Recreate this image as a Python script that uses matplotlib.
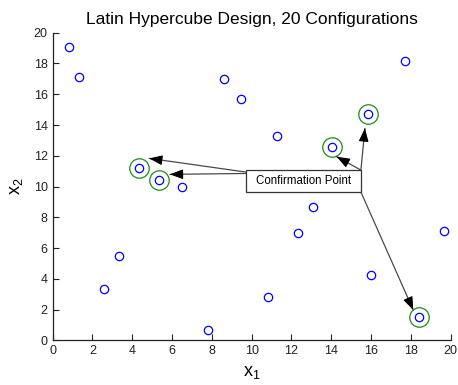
import matplotlib
matplotlib.use("Agg")
import matplotlib.pyplot as plt

plt.rcParams["font.family"] = ["Liberation Sans", "DejaVu Sans"]
plt.rcParams["mathtext.fontset"] = "custom"
plt.rcParams["mathtext.rm"] = "Liberation Sans"
plt.rcParams["mathtext.it"] = "Liberation Sans"

# 20-point latin hypercube sample
x1 = [0.82, 1.32, 2.56, 3.33, 4.34, 5.36, 6.51, 7.82, 8.62, 9.44,
      10.83, 11.26, 12.31, 13.10, 14.02, 15.86, 16.00, 17.70, 18.39, 19.68]
x2 = [19.09, 17.14, 3.32, 5.50, 11.18, 10.42, 9.99, 0.69, 17.02, 15.72,
      2.83, 13.28, 6.96, 8.69, 12.57, 14.69, 4.27, 18.17, 1.53, 7.09]

# indices of the confirmation points
confirm = [4, 5, 14, 15, 18]

# label box and arrow geometry (data units)
box_x = [9.74, 15.48]
box_y = [9.63, 11.07]
arrow_from = [(9.71, 10.94), (9.71, 10.85), (15.49, 11.07), (15.49, 11.07), (15.49, 9.64)]
arrow_to = [(4.85, 11.83), (5.89, 10.79), (14.27, 11.94), (15.69, 13.78), (18.12, 1.97)]

fig = plt.figure(figsize=(4.58, 3.85), dpi=100)
ax = fig.add_axes([0.115, 0.116, 0.869, 0.799])

ax.plot(x1, x2, "o", color="blue", mfc="none", ms=6, mew=0.9, ls="none")
ax.plot([x1[i] for i in confirm], [x2[i] for i in confirm], "o",
        color="#1a8c1a", mfc="none", ms=14, mew=0.9, ls="none")

for (sx, sy), (tx, ty) in zip(arrow_from, arrow_to):
    ax.annotate("", xy=(tx, ty), xytext=(sx, sy),
                arrowprops=dict(arrowstyle="-", color="#4a4a4a", lw=0.9,
                                shrinkA=0, shrinkB=0))
    # short segment just for the black head
    hx = tx - (tx - sx) * 0.02
    hy = ty - (ty - sy) * 0.02
    ax.annotate("", xy=(tx, ty), xytext=(hx, hy),
                arrowprops=dict(arrowstyle="-|>,head_length=0.8,head_width=0.3",
                                color="black", lw=0.8, shrinkA=0, shrinkB=0,
                                mutation_scale=10))

ax.add_patch(plt.Rectangle((box_x[0], box_y[0]), box_x[1] - box_x[0], box_y[1] - box_y[0],
                           facecolor="white", edgecolor="#333333", lw=0.9, zorder=3))
ax.text((box_x[0] + box_x[1]) / 2, (box_y[0] + box_y[1]) / 2, "Confirmation Point",
        ha="center", va="center", fontsize=8.3, zorder=4)

ax.set_xlim(0, 20)
ax.set_ylim(0, 20)
ax.set_xticks(range(0, 21, 2))
ax.set_yticks(range(0, 21, 2))
ax.tick_params(direction="in", length=4, width=0.8, labelsize=9, colors="#222222")
ax.spines["top"].set_visible(False)
ax.spines["right"].set_visible(False)
for s in ["left", "bottom"]:
    ax.spines[s].set_linewidth(0.9)
    ax.spines[s].set_color("#222222")

ax.set_title("Latin Hypercube Design, 20 Configurations", fontsize=12.5, pad=6)
ax.set_xlabel("x$_1$", fontsize=13, labelpad=5)
ax.set_ylabel("x$_2$", fontsize=13, labelpad=6, rotation=90)

fig.savefig("out.png", dpi=100)
